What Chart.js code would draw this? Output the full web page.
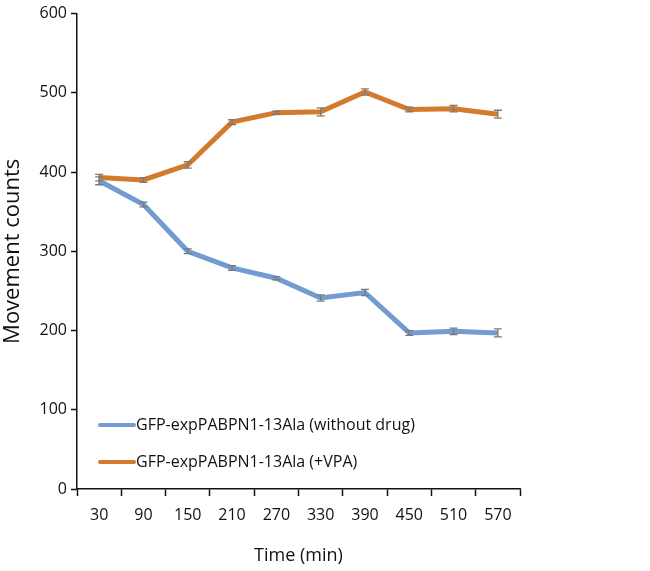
<!DOCTYPE html>
<html lang="en">
<head>
    <meta charset="UTF-8">
    <title>Movement counts</title>
    <script src="https://cdn.jsdelivr.net/npm/chart.js"></script>
    <style>
        html, body { margin: 0; padding: 0; background: #fff; }
        #wrap { width: 650px; height: 571px; position: relative; }
    </style>
</head>
<body>
<div id="wrap"><canvas id="movementChart"></canvas></div>

<script>
// time points (min)
const timeLabels = ['30', '90', '150', '210', '270', '330', '390', '450', '510', '570'];

// GFP-expPABPN1-13Ala (without drug)
const noDrugValues = [389, 359, 300, 279, 266, 241, 248, 197, 199, 197];
const noDrugErrors = [5, 3, 3, 3, 2, 4, 4, 3, 4, 5];

// GFP-expPABPN1-13Ala (+VPA)
const vpaValues = [393, 390, 409, 463, 475, 476, 501, 479, 480, 473];
const vpaErrors = [4, 3, 4, 3, 2, 5, 4, 3, 4, 5];

const yTicks = [0, 100, 200, 300, 400, 500, 600];

const blue = 'rgb(114, 155, 208)';
const orange = 'rgb(211, 122, 44)';
const fontFamily = '"Open Sans", sans-serif';

// error bars drawn through the chart scales
const errorBarPlugin = {
    id: 'errorBars',
    afterDatasetsDraw(chart) {
        const ctx = chart.ctx;
        const x = chart.scales.x;
        const y = chart.scales.y;
        const sets = [[noDrugValues, noDrugErrors], [vpaValues, vpaErrors]];
        ctx.save();
        ctx.strokeStyle = '#7a7a7a';
        ctx.lineWidth = 1.3;
        sets.forEach(([vals, errs]) => {
            vals.forEach((v, i) => {
                const px = x.getPixelForValue(i);
                const top = y.getPixelForValue(v + errs[i]);
                const bot = y.getPixelForValue(v - errs[i]);
                ctx.beginPath();
                ctx.moveTo(px, top); ctx.lineTo(px, bot);
                ctx.moveTo(px - 4, top); ctx.lineTo(px + 4, top);
                ctx.moveTo(px - 4, bot); ctx.lineTo(px + 4, bot);
                ctx.stroke();
            });
        });
        ctx.restore();
    }
};

// legend inside the plot area, lower left
const insideLegend = {
    id: 'insideLegend',
    afterDraw(chart) {
        const ctx = chart.ctx;
        const items = chart.data.datasets;
        ctx.save();
        ctx.font = '16px ' + fontFamily;
        ctx.textBaseline = 'middle';
        ctx.fillStyle = '#111';
        items.forEach((ds, i) => {
            const yy = 425 + i * 37;
            ctx.strokeStyle = ds.borderColor;
            ctx.lineWidth = 4;
            ctx.lineCap = 'round';
            ctx.beginPath();
            ctx.moveTo(100, yy); ctx.lineTo(134, yy);
            ctx.stroke();
            ctx.fillText(ds.label, 136, yy);
        });
        ctx.restore();
    }
};

const ctx = document.getElementById('movementChart').getContext('2d');
new Chart(ctx, {
    type: 'line',
    data: {
        labels: timeLabels,
        datasets: [{
            label: 'GFP-expPABPN1-13Ala (without drug)',
            data: noDrugValues,
            borderColor: blue,
            backgroundColor: blue,
            borderWidth: 5,
            pointRadius: 0,
            tension: 0
        }, {
            label: 'GFP-expPABPN1-13Ala (+VPA)',
            data: vpaValues,
            borderColor: orange,
            backgroundColor: orange,
            borderWidth: 5,
            pointRadius: 0,
            tension: 0
        }]
    },
    options: {
        responsive: true,
        maintainAspectRatio: false,
        animation: false,
        layout: { padding: { left: 0, right: 130, top: 7, bottom: 0 } },
        plugins: {
            legend: { display: false },
            tooltip: { enabled: false }
        },
        scales: {
            x: {
                offset: true,
                grid: {
                    offset: true,
                    drawOnChartArea: false,
                    color: '#111',
                    tickLength: 7,
                    tickWidth: 1.5
                },
                border: { color: '#111', width: 1.5 },
                ticks: {
                    color: '#111',
                    padding: 10,
                    maxRotation: 0,
                    font: { family: fontFamily, size: 16 }
                },
                title: {
                    display: true,
                    text: 'Time (min)',
                    color: '#111',
                    padding: { top: 6 },
                    font: { family: fontFamily, size: 18 }
                },
                afterFit: s => { s.height = 82; }
            },
            y: {
                min: 0,
                max: 600,
                afterBuildTicks: s => { s.ticks = yTicks.map(v => ({ value: v })); },
                grid: {
                    drawOnChartArea: false,
                    color: '#111',
                    tickLength: 6,
                    tickWidth: 1.5
                },
                border: { color: '#111', width: 1.5 },
                ticks: {
                    color: '#111',
                    padding: 4,
                    font: { family: fontFamily, size: 16 }
                },
                title: {
                    display: true,
                    text: 'Movement counts',
                    color: '#111',
                    padding: { top: 0, bottom: 4 },
                    font: { family: fontFamily, size: 22 }
                },
                afterFit: s => { s.width = 77; }
            }
        }
    },
    plugins: [errorBarPlugin, insideLegend]
});
</script>
</body>
</html>
